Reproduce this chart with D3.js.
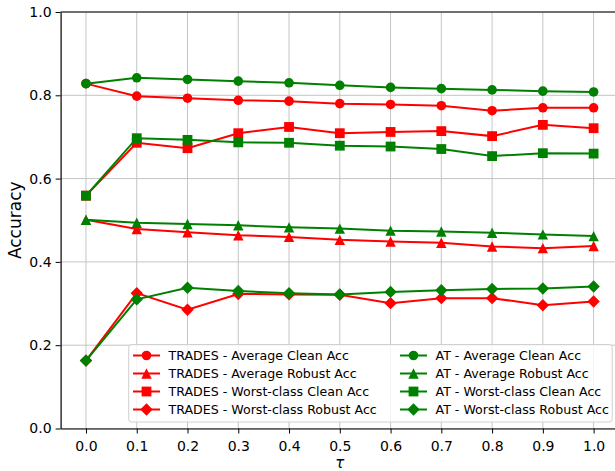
<!DOCTYPE html>
<html>
<head>
<meta charset="utf-8">
<script src="https://cdn.jsdelivr.net/npm/d3@7"></script>
<style>
  body { margin: 0; background: #fff; }
  svg { display: block; font-family: "DejaVu Sans", sans-serif; }
</style>
</head>
<body>
<div id="chart"></div>
<script>
// tau values on the x axis
const taus = [0.0, 0.1, 0.2, 0.3, 0.4, 0.5, 0.6, 0.7, 0.8, 0.9, 1.0];
const xTicks = [0.0, 0.1, 0.2, 0.3, 0.4, 0.5, 0.6, 0.7, 0.8, 0.9, 1.0];
const yTicks = [0.0, 0.2, 0.4, 0.6, 0.8, 1.0];

// TRADES
const tradesAvgClean = [0.828, 0.798, 0.793, 0.788, 0.786, 0.780, 0.778, 0.775, 0.763, 0.770, 0.770];
const tradesAvgRobust = [0.501, 0.479, 0.471, 0.464, 0.460, 0.453, 0.449, 0.446, 0.437, 0.433, 0.438];
const tradesWorstClean = [0.559, 0.686, 0.673, 0.709, 0.724, 0.709, 0.712, 0.714, 0.702, 0.729, 0.721];
const tradesWorstRobust = [0.163, 0.325, 0.285, 0.323, 0.322, 0.321, 0.301, 0.313, 0.313, 0.296, 0.305];

// AT
const atAvgClean = [0.828, 0.842, 0.838, 0.834, 0.830, 0.824, 0.819, 0.816, 0.813, 0.810, 0.808];
const atAvgRobust = [0.501, 0.494, 0.491, 0.488, 0.483, 0.480, 0.475, 0.473, 0.470, 0.466, 0.462];
const atWorstClean = [0.559, 0.697, 0.693, 0.687, 0.686, 0.679, 0.677, 0.671, 0.654, 0.661, 0.660];
const atWorstRobust = [0.163, 0.310, 0.338, 0.330, 0.325, 0.322, 0.328, 0.332, 0.335, 0.336, 0.341];

const series = [
  { name: 'TRADES - Average Clean Acc', values: tradesAvgClean, color: '#ff0000', marker: 'circle' },
  { name: 'TRADES - Average Robust Acc', values: tradesAvgRobust, color: '#ff0000', marker: 'triangle' },
  { name: 'TRADES - Worst-class Clean Acc', values: tradesWorstClean, color: '#ff0000', marker: 'square' },
  { name: 'TRADES - Worst-class Robust Acc', values: tradesWorstRobust, color: '#ff0000', marker: 'diamond' },
  { name: 'AT - Average Clean Acc', values: atAvgClean, color: '#008000', marker: 'circle' },
  { name: 'AT - Average Robust Acc', values: atAvgRobust, color: '#008000', marker: 'triangle' },
  { name: 'AT - Worst-class Clean Acc', values: atWorstClean, color: '#008000', marker: 'square' },
  { name: 'AT - Worst-class Robust Acc', values: atWorstRobust, color: '#008000', marker: 'diamond' }
];

const W = 615, H = 471;
const x = d3.scaleLinear().domain([-0.05, 1.05]).range([60.6, 619]);
const y = d3.scaleLinear().domain([0, 1]).range([428.5, 12]);

const svg = d3.select('#chart').append('svg')
  .attr('width', W)
  .attr('height', H);

// grid
svg.append('g').selectAll('line.gx')
  .data(xTicks)
  .enter().append('line')
  .attr('x1', d => x(d)).attr('x2', d => x(d))
  .attr('y1', y(0)).attr('y2', y(1))
  .attr('stroke', '#c4c4c4').attr('stroke-width', 1);
svg.append('g').selectAll('line.gy')
  .data(yTicks)
  .enter().append('line')
  .attr('x1', x.range()[0]).attr('x2', x.range()[1])
  .attr('y1', d => y(d)).attr('y2', d => y(d))
  .attr('stroke', '#c4c4c4').attr('stroke-width', 1);

// marker paths
const markerPath = (type) => {
  if (type === 'circle') return d3.symbol().type(d3.symbolCircle).size(Math.PI * 4.8 * 4.8)();
  if (type === 'square') { const s = 4.9; return `M${-s},${-s}H${s}V${s}H${-s}Z`; }
  if (type === 'triangle') { const s = 5.2; return `M0,${-s}L${s},${s}L${-s},${s}Z`; }
  const s = 6.2; return `M0,${-s}L${s},0L0,${s}L${-s},0Z`;
};

const line = d3.line().x((d, i) => x(taus[i])).y(d => y(d));

series.forEach(s => {
  const g = svg.append('g');
  g.append('path')
    .datum(s.values)
    .attr('d', line)
    .attr('fill', 'none')
    .attr('stroke', s.color)
    .attr('stroke-width', 2);
  g.selectAll('path.m')
    .data(s.values)
    .enter().append('path')
    .attr('class', 'm')
    .attr('d', markerPath(s.marker))
    .attr('transform', (d, i) => `translate(${x(taus[i])},${y(d)})`)
    .attr('fill', s.color);
});

// axes
const xAxis = svg.append('g')
  .attr('transform', `translate(0,${y(0)})`)
  .call(d3.axisBottom(x).tickValues(xTicks).tickFormat(d3.format('.1f')).tickSizeInner(5).tickSizeOuter(0).tickPadding(4));
const yAxis = svg.append('g')
  .attr('transform', `translate(${x.range()[0]},0)`)
  .call(d3.axisLeft(y).tickValues(yTicks).tickFormat(d3.format('.1f')).tickSizeInner(5).tickSizeOuter(0).tickPadding(4));
[xAxis, yAxis].forEach(a => {
  a.selectAll('text').style('font-size', '14px').attr('fill', '#000').style('font-family', 'DejaVu Sans');
  a.selectAll('line').attr('stroke', '#000');
  a.select('.domain').attr('stroke', '#000').attr('stroke-width', 1.2);
});
xAxis.selectAll('text').attr('dy', '0.95em');

// top spine
svg.append('line')
  .attr('x1', x.range()[0]).attr('x2', x.range()[1])
  .attr('y1', y(1)).attr('y2', y(1))
  .attr('stroke', '#000').attr('stroke-width', 1.2);

// axis labels
svg.append('text')
  .attr('x', (x(0) + x(1)) / 2)
  .attr('y', 468)
  .attr('text-anchor', 'middle')
  .style('font-size', '15px')
  .style('font-style', 'italic')
  .text('τ');

svg.append('text')
  .attr('transform', `translate(21,${(y(0) + y(1)) / 2}) rotate(-90)`)
  .attr('text-anchor', 'middle')
  .style('font-size', '17px')
  .text('Accuracy');

// legend
const legend = svg.append('g');
legend.append('rect')
  .attr('x', 128.7).attr('y', 344.5)
  .attr('width', 483.5).attr('height', 77.5)
  .attr('rx', 3)
  .attr('fill', '#fff').attr('fill-opacity', 0.8)
  .attr('stroke', '#d0d0d0');

const item = legend.selectAll('g.item')
  .data(series)
  .enter().append('g')
  .attr('transform', (d, i) => `translate(${i < 4 ? 133 : 400},${355.5 + (i % 4) * 18})`);
item.append('line')
  .attr('x1', 0).attr('x2', 27)
  .attr('stroke', d => d.color).attr('stroke-width', 2);
item.append('path')
  .attr('d', d => markerPath(d.marker))
  .attr('transform', 'translate(13.5,0)')
  .attr('fill', d => d.color);
item.append('text')
  .attr('x', 35.5)
  .attr('dy', '0.36em')
  .style('font-size', '12.6px')
  .text(d => d.name);
</script>
</body>
</html>
